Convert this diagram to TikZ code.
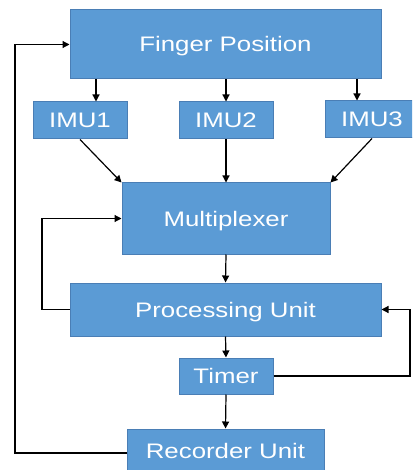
\documentclass[tikz,border=0pt]{standalone}
\usepackage{fontspec}
\setmainfont{Liberation Sans}[FakeStretch=1.23]
\usetikzlibrary{arrows.meta}
\definecolor{boxfill}{HTML}{5B9BD5}
\definecolor{boxline}{HTML}{4A7EB5}
\begin{document}
\begin{tikzpicture}[x=1pt,y=-1pt,
  blk/.style={rectangle, fill=boxfill, draw=boxline, line width=1pt, text=white,
    font=\fontsize{21}{25}\selectfont, inner sep=0pt, text height=15pt, text depth=0pt},
  arr/.style={draw=black, line width=1.2pt, -{Triangle[length=7pt,width=7pt]}}]
\useasboundingbox (0,0) rectangle (412,470);
\clip (0,0) rectangle (412,470);
\node[blk, minimum width=311pt, minimum height=69pt] (fp) at (225.5,44.5) {Finger Position};
\node[blk, minimum width=94pt, minimum height=37pt] (imu1) at (80,120.5) {IMU1};
\node[blk, minimum width=94pt, minimum height=37pt] (imu2) at (226,120.5) {IMU2};
\node[blk, minimum width=94pt, minimum height=37pt] (imu3) at (372,119.5) {IMU3};
\node[blk, minimum width=208pt, minimum height=71pt] (mux) at (226,218.5) {Multiplexer};
\node[blk, minimum width=311pt, minimum height=53pt] (pu) at (225.5,309.5) {Processing Unit};
\node[blk, minimum width=94pt, minimum height=36pt] (tim) at (226,376) {Timer};
\node[blk, minimum width=197pt, minimum height=48pt] (rec) at (225.5,453) {\raisebox{2pt}{Recorder Unit}};
\coordinate (c1) at (96,0);
\coordinate (c3) at (357,0);
\coordinate (lf) at (42,0);
\coordinate (rt) at (410,0);
\coordinate (ll) at (15,0);
\draw[arr] (fp.south -| c1) -- (imu1.north -| c1);
\draw[arr] (fp.south -| imu2.north) -- (imu2.north);
\draw[arr] (fp.south -| c3) -- (imu3.north -| c3);
\draw[arr] (imu1.south) -- (mux.north west);
\draw[arr] (imu2.south) -- (mux.north);
\draw[arr] (imu3.south) -- (mux.north east);
\draw[arr] (mux.south) -- (pu.north);
\draw[arr] (pu.west) -- (pu.west -| lf) |- (mux.west);
\draw[arr] (pu.south) -- (tim.north);
\draw[arr] (tim.east) -- (tim.east -| rt) |- (pu.east);
\draw[arr] (tim.south) -- (rec.north);
\draw[arr] (rec.west) -- (rec.west -| ll) |- (fp.west);
\end{tikzpicture}
\end{document}
